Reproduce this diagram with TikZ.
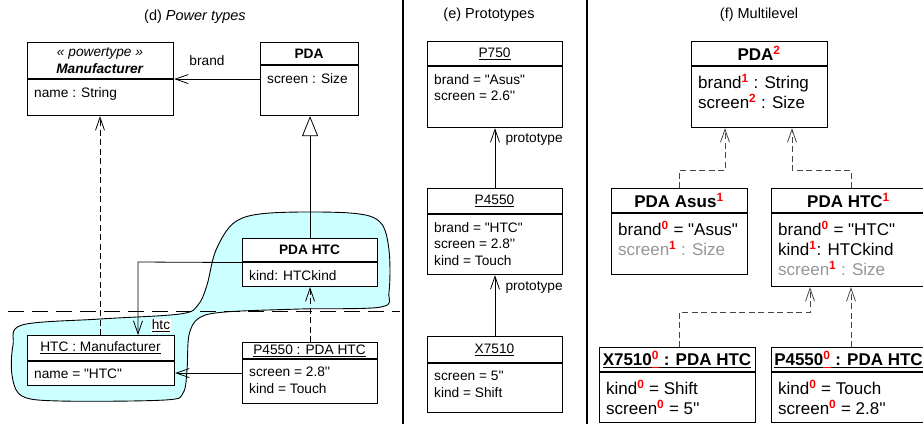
\documentclass[tikz,border=0pt]{standalone}
\usepackage{fontspec}
\setmainfont{Liberation Sans}
\usetikzlibrary{arrows.meta}
\definecolor{blobc}{RGB}{204,255,255}
\definecolor{lgray}{RGB}{150,150,150}
\definecolor{dgray}{RGB}{70,70,70}
\newcommand\rs[1]{\textsuperscript{\textcolor{red}{\bfseries #1}}}
\newcommand\inch{\textquotesingle\textquotesingle}
\newcommand\qq[1]{\textquotedbl#1\textquotedbl}
\tikzset{
  boxst/.style={draw, fill=white, line width=1.1pt, inner sep=0pt},
  boxline/.style={line width=1.1pt},
  hdr/.style={align=center, inner sep=0pt},
  bdy/.style={anchor=north west, align=left, inner sep=0pt},
  conn/.style={line width=0.8pt},
  dep/.style={conn, dash pattern=on 6pt off 3.5pt},
  opn/.style={-{Straight Barb[length=13pt,width=9pt]}},
  gen/.style={-{Triangle[open,length=20pt,width=16pt,fill=white]}},
  ttl/.style={font=\fontsize{14.5}{17}\selectfont}
}
% name, x1, y1, x2, ysep, y2, header, body
\newcommand\umlbox[8]{%
  \node[boxst, minimum width={(#4-#2)*1pt}, minimum height={(#6-#3)*1pt}, anchor=north west] (#1) at (#2,#3) {};
  \draw[boxline] (#2,#5) -- (#4,#5);
  \node[hdr] (#1h) at ({(#2+#4)/2},{(#3+#5)/2}) {#7};
  \node[bdy] (#1b) at (#2+7,#5+8) {#8};
}
\begin{document}
\begin{tikzpicture}[x=1pt,y=-1pt]
\useasboundingbox (0,0) rectangle (923,424);
\fill[white] (0,0) rectangle (923,424);
% dividers
\draw[line width=1.2pt] (403,0) -- (403,424);
\draw[line width=1.2pt] (587,0) -- (587,424);

% ---------------- (d) Power types
\node[ttl] (td) at (195,17) {(d) \textit{Power types}};
\draw[fill=blobc, line width=0.9pt] plot[smooth cycle, tension=0.55] coordinates {
 (13,345) (22,325) (100,319) (180,314) (198,305) (207,285) (216,250) (235,222) (270,213)
 (350,213) (380,222) (389,250) (389,292) (381,307) (300,309) (225,312) (199,318)
 (189,335) (187,370) (183,393) (165,400) (60,401) (22,396) (12,375)};
\draw[conn, dash pattern=on 16pt off 8pt] (8,311) -- (400,311);
\begin{scope}[font=\fontsize{13.7}{16.5}\selectfont]
\umlbox{manuf}{27}{42}{173}{79}{115}{\textit{« powertype »}\\\textbf{\textit{Manufacturer}}}{name : String}
\umlbox{pda}{260}{42}{358}{65}{115}{\textbf{PDA}}{screen : Size}
\umlbox{pdahtc}{242}{238}{377}{262}{286}{\textbf{PDA HTC}}{kind: HTCkind}
\umlbox{htcm}{27}{335}{174}{361}{385}{\underline{HTC : Manufacturer}}{name = \qq{HTC}}
\umlbox{pfl}{242}{342}{377}{359}{403}{\underline{P4550 : PDA HTC}}{screen = 2.8\inch\\kind = Touch}
\draw[conn, opn] (pda.west) -- (manuf.east |- pda.west);
\node (brandlbl) at (207,61) {brand};
\draw[conn, gen] (pdahtc.north) -- (pda.south -| pdahtc.north);
\draw[dep, opn] (htcm.north -| 100,0) -- (manuf.south -| 100,0);
\coordinate (bend) at (138,262);
\draw[conn, opn] (pdahtc.west) -- (bend) -- (bend |- htcm.north);
\node[fill=white, inner sep=1pt] (htclbl) at (161,326) {\underline{htc}};
\draw[conn, opn] (pfl.west) -- (pfl.west -| htcm.east);
\draw[dep, opn] (pfl.north) -- (pdahtc.south -| pfl.north);
\end{scope}

% ---------------- (e) Prototypes
\node[ttl] (te) at (489,15) {(e) Prototypes};
\begin{scope}[font=\fontsize{13.7}{16.5}\selectfont]
\umlbox{pse}{427}{41}{562}{66}{127}{\underline{P750}}{brand = \qq{Asus}\\screen = 2.6\inch}
\umlbox{pfm}{427}{188}{562}{214}{274}{\underline{P4550}}{brand = \qq{HTC}\\screen = 2.8\inch\\kind = Touch}
\umlbox{xsm}{427}{336}{562}{363}{412}{\underline{X7510}}{screen = 5\inch\\kind = Shift}
\draw[conn, opn] (pfm.north -| 495,0) -- (pse.south -| 495,0);
\node[anchor=west] (pl1) at (502,139) {prototype};
\draw[conn, opn] (xsm.north -| 495,0) -- (pfm.south -| 495,0);
\node[anchor=west] (pl2) at (502,287) {prototype};
\end{scope}

% ---------------- (f) Multilevel
\node[ttl] (tf) at (759,15) {(f) Multilevel};
\begin{scope}[font=\fontsize{17}{20}\selectfont]
\umlbox{mpda}{691}{41}{827}{66}{127}{\textbf{PDA}\rs{2}}{brand\rs{1} : String\\screen\rs{2} : Size}
\umlbox{masus}{611}{188}{747}{213}{274}{\textbf{PDA Asus}\rs{1}}{brand\rs{0} = \qq{Asus}\\\textcolor{lgray}{screen\rs{1} : Size}}
\umlbox{mhtc}{771}{188}{926}{213}{286}{\textbf{PDA HTC}\rs{1}}{brand\rs{0} = \qq{HTC}\\kind\rs{1}: HTCkind\\\textcolor{lgray}{screen\rs{1} : Size}}
\umlbox{mx}{599}{347}{755}{372}{422}{\textbf{\underline{X7510}\textcolor{red}{\underline{\textsuperscript{0}}}\underline{ : PDA HTC}}}{kind\rs{0} = Shift\\screen\rs{0} = 5\inch}
\umlbox{mp}{771}{347}{926}{372}{422}{\textbf{\underline{P4550}\textcolor{red}{\underline{\textsuperscript{0}}}\underline{ : PDA HTC}}}{kind\rs{0} = Touch\\screen\rs{0} = 2.8\inch}
\draw[dep, dgray, opn] (masus.north -| 679,0) |- (725,170) -- (mpda.south -| 725,0);
\draw[dep, dgray, opn] (mhtc.north -| 851,0) |- (792,170) -- (mpda.south -| 792,0);
\draw[dep, dgray, opn] (mx.north -| 679,0) |- (810,312) -- (mhtc.south -| 810,0);
\draw[dep, dgray, opn] (mp.north -| 851,0) -- (mhtc.south -| 851,0);
\end{scope}
\end{tikzpicture}
\end{document}
